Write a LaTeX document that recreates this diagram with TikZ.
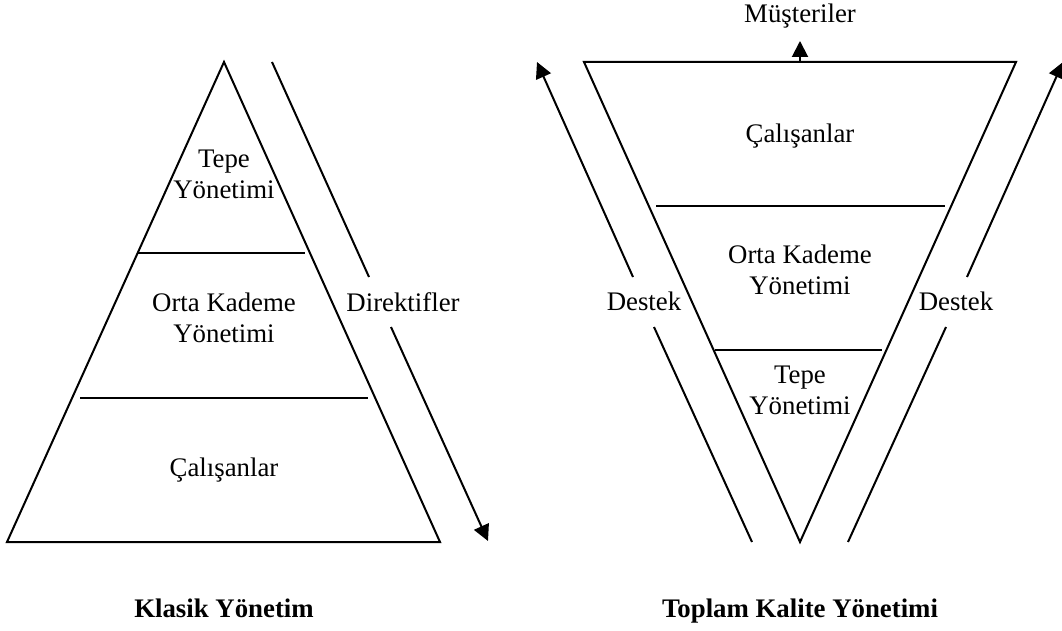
\documentclass[tikz,border=0pt]{standalone}
\usepackage{fontspec}
\setmainfont{Liberation Serif}
\usetikzlibrary{arrows.meta}

\begin{document}
\begin{tikzpicture}[x=0.5pt, y=-0.5pt, line width=1pt,
  >={Triangle[length=8pt,width=8pt]},
  lbl/.style={font=\fontsize{13.4}{15.5}\selectfont, inner sep=0pt, align=center},
  ttl/.style={font=\fontsize{13.4}{15.5}\selectfont\bfseries, inner sep=0pt, anchor=base}]
  \useasboundingbox (0,0) rectangle (1062,631);

  % classic pyramid
  \draw (224,62) -- (440,542) -- (7,542) -- cycle;
  \draw (138,253) -- (305,253);
  \draw (80,398) -- (368,398);

  \node[lbl] (tepeL) at (224,174) {Tepe\\Yönetimi};
  \node[lbl] (ortaL) at (224,318) {Orta Kademe\\Yönetimi};
  \node[lbl, anchor=base] (calL) at (224,476) {Çalışanlar};

  % directives arrow
  \node[lbl, anchor=base] (direktif) at (403,312) {Direktifler};
  \coordinate (dirA) at (272,62);
  \coordinate (dirB) at (369,277);
  \coordinate (dirC) at (391,327);
  \coordinate (dirD) at (488,541);
  \draw (dirA) -- (dirB);
  \draw[->] (dirC) -- (dirD);

  % inverted pyramid
  \draw (584,62) -- (1016,62) -- (800,542) -- cycle;
  \draw (656,206) -- (945,206);
  \draw (715,350) -- (882,350);

  \node[lbl, anchor=base] (calR) at (800,143) {Çalışanlar};
  \node[lbl] (ortaR) at (800,270) {Orta Kademe\\Yönetimi};
  \node[lbl] (tepeR) at (800,390) {Tepe\\Yönetimi};

  % customers
  \node[lbl, anchor=base] (musteri) at (800,23) {Müşteriler};
  \coordinate (topMid) at (800,62);
  \coordinate (musTip) at (800,41);
  \draw[->] (topMid) -- (musTip);

  % support arrows
  \node[lbl, anchor=base] (destekL) at (644,311) {Destek};
  \node[lbl, anchor=base] (destekR) at (956,311) {Destek};

  \coordinate (supLA) at (752,542);
  \coordinate (supLB) at (654,327);
  \coordinate (supLC) at (633,277);
  \coordinate (supLD) at (537,62);
  \draw (supLA) -- (supLB);
  \draw[->] (supLC) -- (supLD);

  \coordinate (supRA) at (848,542);
  \coordinate (supRB) at (946,327);
  \coordinate (supRC) at (967,277);
  \coordinate (supRD) at (1063,62);
  \draw (supRA) -- (supRB);
  \draw[->] (supRC) -- (supRD);

  % titles
  \node[ttl] (klasik) at (224,617) {Klasik Yönetim};
  \node[ttl] (tky) at (800,617) {Toplam Kalite Yönetimi};
\end{tikzpicture}
\end{document}
